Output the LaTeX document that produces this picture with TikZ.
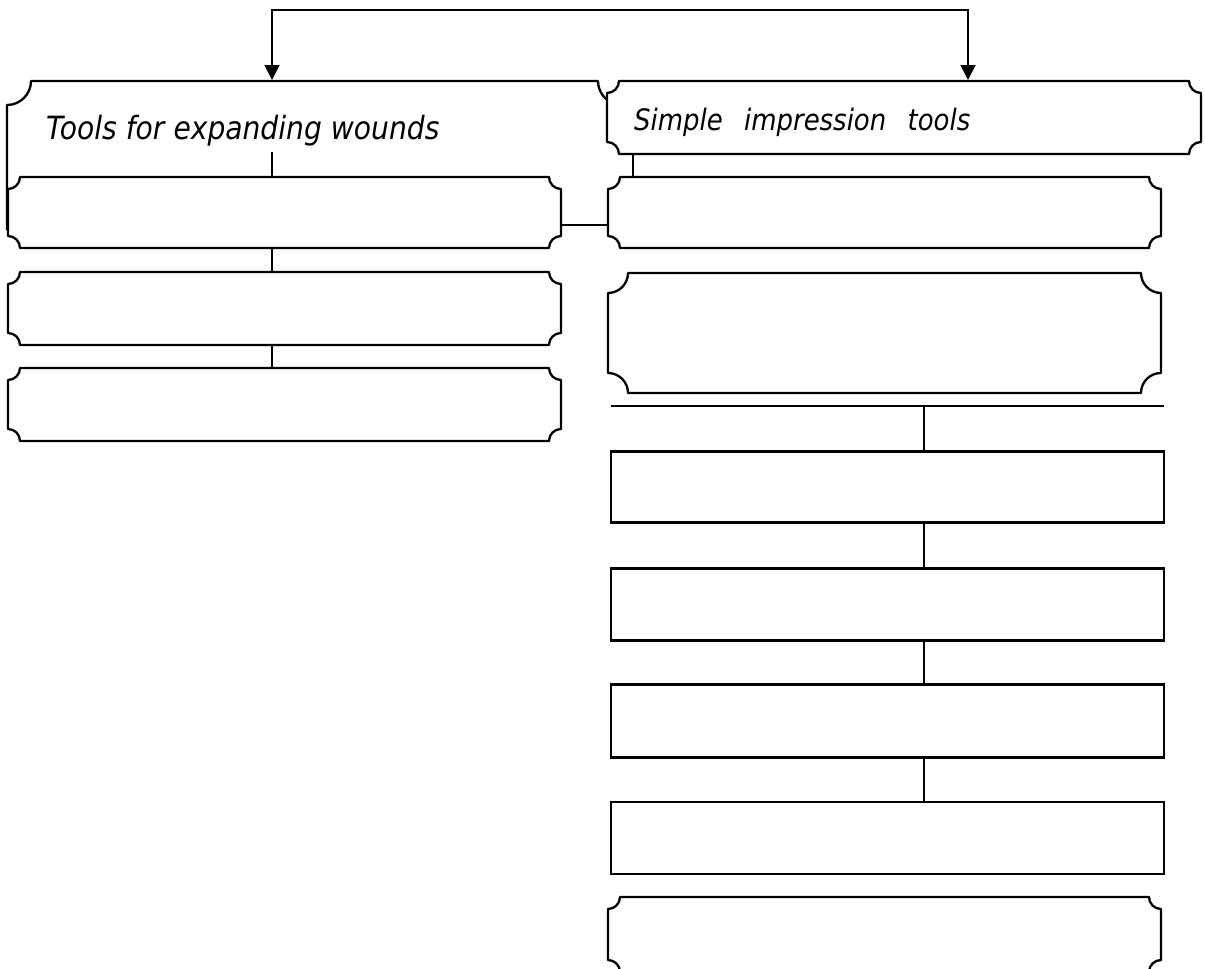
\documentclass[tikz,border=0pt]{standalone}
\usepackage{fontspec}
\setmainfont{DejaVu Sans}[FakeStretch=0.88]
\usetikzlibrary{calc,arrows.meta,backgrounds}

\newcommand\plaqueoutline[2]{%
  \draw[boxline, fill=white]
    ($(#1.north west)+(#2,0)$) -- ($(#1.north east)+(-#2,0)$)
    arc[start angle=180,end angle=270,radius=#2]
    -- ($(#1.south east)+(0,#2)$)
    arc[start angle=90,end angle=180,radius=#2]
    -- ($(#1.south west)+(#2,0)$)
    arc[start angle=0,end angle=90,radius=#2]
    -- ($(#1.north west)+(0,-#2)$)
    arc[start angle=-90,end angle=0,radius=#2]
    -- cycle;}

\tikzset{
  x=1pt, y=1pt,
  boxline/.style={line width=2.3pt, line join=round},
  conn/.style={line width=2pt},
  arr/.style={conn, -{Triangle[length=15pt,width=15pt]}},
  frame/.style={draw=none, rectangle, inner sep=0pt, outer sep=0pt,
                minimum width=#1},
  rectbox/.style={draw, line width=2.5pt, rectangle, inner sep=0pt, outer sep=0pt,
                  minimum width=553pt, minimum height=71pt, fill=white},
  headtext/.style={inner sep=0pt, anchor=base west, font=\itshape},
}

\begin{document}
\begin{tikzpicture}
\useasboundingbox (0,0) rectangle (1205,-969);
\fill[white] (0,0) rectangle (1205,-969);

% invisible frames carrying the box geometry
\node[frame=553pt, minimum height=71pt]  (L1) at (284.5,-212.5) {};
\node[frame=553pt, minimum height=73pt]  (L2) at (284.5,-308.5) {};
\node[frame=553pt, minimum height=73pt]  (L3) at (284.5,-404.5) {};
\node[frame=594pt, minimum height=73pt]  (RH) at (904,-117.5) {};
\node[frame=553pt, minimum height=71pt]  (R1) at (884.5,-212.5) {};
\node[frame=553pt, minimum height=120pt] (R2) at (884.5,-333) {};
\node[frame=553pt, minimum height=75pt]  (R3) at (884.5,-934.5) {};

% left header outline (its right part lies under the right header)
\draw[boxline] (7,-230) -- (7,-105) arc[start angle=-90,end angle=0,radius=24]
  -- (598,-81) arc[start angle=180,end angle=250,radius=24];

\plaqueoutline{RH}{12}
\plaqueoutline{L1}{12}
\plaqueoutline{L2}{12}
\plaqueoutline{L3}{12}
\plaqueoutline{R1}{12}
\plaqueoutline{R2}{20}
\plaqueoutline{R3}{12}

% plain rectangles
\node[rectbox] (Q1) at (887.5,-487) {};
\node[rectbox, minimum height=72pt] (Q2) at (887.5,-604.5) {};
\node[rectbox, minimum height=73pt] (Q3) at (887.5,-721) {};
\node[rectbox, minimum height=72pt] (Q4) at (887.5,-838) {};

% header texts
\node[headtext, font=\itshape\fontsize{32}{36}\selectfont] (LHtext) at (46,-139)
  {Tools for expanding wounds};
\node[headtext, font=\itshape\fontsize{29.5}{34}\selectfont] (RHtext) at (634,-130)
  {Simple\hspace{13pt} impression\hspace{13pt} tools};

% connectors
\coordinate (split) at (620,-9.5);
\coordinate (LHin) at (272,-80);
\coordinate (RHin) at (968,-80);
\draw[arr] (split) -| (LHin);
\draw[arr] (split) -| (RHin);

\coordinate (a1) at (272,-152);
\draw[conn] (a1) -- (a1 |- L1.north);
\draw[conn] (a1 |- L1.south) -- (a1 |- L2.north);
\draw[conn] (a1 |- L2.south) -- (a1 |- L3.north);

\coordinate (h1) at (561,-225);
\draw[conn] (h1) -- (h1 -| R1.west);

\coordinate (b1) at (633,-154);
\draw[conn] (b1 |- RH.south) -- (b1 |- R1.north);

\coordinate (barL) at (611,-406);
\coordinate (barR) at (1164,-406);
\draw[conn, line width=2.4pt] (barL) -- (barR);
\coordinate (v) at (924,-406);
\draw[conn, line width=2.4pt] (v) -- (v |- Q1.north);
\draw[conn, line width=2.4pt] (v |- Q1.south) -- (v |- Q2.north);
\draw[conn, line width=2.4pt] (v |- Q2.south) -- (v |- Q3.north);
\draw[conn, line width=2.4pt] (v |- Q3.south) -- (v |- Q4.north);
\end{tikzpicture}
\end{document}
